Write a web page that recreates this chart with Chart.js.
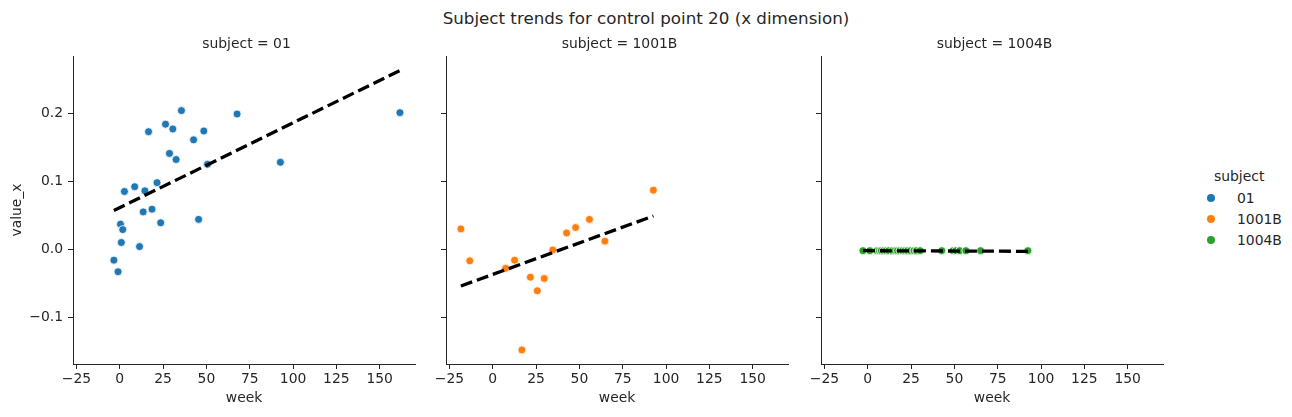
<!DOCTYPE html>
<html>
<head>
<meta charset="utf-8">
<script src="https://cdn.jsdelivr.net/npm/chart.js@4.4.1/dist/chart.umd.min.js"></script>
<style>
  body { margin: 0; background: #fff; }
  #wrap { position: relative; width: 1292px; height: 417px; font-family: "DejaVu Sans", sans-serif; color: #262626; }
  #wrap canvas { position: absolute; top: 30px; }
  .suptitle { position: absolute; left: 0; top: 8px; width: 1292px; text-align: center; font-size: 16.7px; line-height: 20px; }
  .ptitle { position: absolute; top: 34px; width: 347px; text-align: center; font-size: 13.9px; line-height: 18px; white-space: nowrap; }
  .legend { position: absolute; left: 1200px; top: 165px; font-size: 13.9px; }
  .legend .ttl { position: absolute; left: 14px; top: 0; line-height: 22px; white-space: nowrap; }
  .legend .item { position: absolute; left: 0; height: 20px; line-height: 20px; white-space: nowrap; }
  .legend .dot { position: absolute; left: 7px; top: 6px; width: 8px; height: 8px; border-radius: 50%; }
  .legend .lbl { position: absolute; left: 37px; top: 0; }
</style>
</head>
<body>
<div id="wrap">
  <div class="suptitle">Subject trends for control point 20 (x dimension)</div>
  <canvas id="p1" width="420" height="377" style="left:0px"></canvas>
  <canvas id="p2" width="420" height="377" style="left:373px"></canvas>
  <canvas id="p3" width="420" height="377" style="left:748px"></canvas>
  <div class="legend" id="legend"></div>
</div>
<script>
// tick labels
const xTicks = [-25, 0, 25, 50, 75, 100, 125, 150];
const yTicks = [-0.1, 0.0, 0.1, 0.2];

// subject 01
const weeks01 = [-3.4, -1.0, 0.4, 0.9, 1.7, 2.7, 8.6, 11.4, 13.5, 14.5, 16.6, 18.6, 21.5, 23.6, 26.4, 28.7, 30.6, 32.5, 35.6, 42.6, 45.5, 48.5, 50.6, 67.7, 92.7, 161.7];
const values01 = [-0.016, -0.033, 0.037, 0.010, 0.029, 0.085, 0.092, 0.004, 0.055, 0.086, 0.173, 0.059, 0.098, 0.039, 0.184, 0.141, 0.177, 0.132, 0.204, 0.161, 0.044, 0.174, 0.125, 0.199, 0.128, 0.201];
const fitWeeks01 = [-3.4, 161.7];
const fitValues01 = [0.057, 0.263];

// subject 1001B
const weeks1001B = [-18.4, -13.3, 7.4, 12.6, 16.8, 21.7, 25.7, 29.7, 34.6, 42.6, 47.8, 55.8, 64.7, 92.7];
const values1001B = [0.030, -0.017, -0.028, -0.016, -0.148, -0.041, -0.061, -0.043, -0.001, 0.024, 0.032, 0.044, 0.012, 0.087];
const fitWeeks1001B = [-18.4, 92.7];
const fitValues1001B = [-0.054, 0.049];

// subject 1004B
const weeks1004B = [-2.8, 1.2, 5.3, 6.7, 7.8, 9.1, 10.6, 12.2, 14.2, 15.8, 17.1, 18.6, 20.1, 21.6, 23.0, 24.7, 26.6, 28.1, 30.2, 42.7, 49.3, 50.9, 53.1, 56.6, 65.1, 92.4];
const values1004B = [-0.002, -0.002, -0.002, -0.002, -0.002, -0.002, -0.002, -0.002, -0.002, -0.002, -0.002, -0.002, -0.002, -0.002, -0.002, -0.002, -0.002, -0.002, -0.002, -0.002, -0.002, -0.002, -0.002, -0.002, -0.002, -0.002];
const fitWeeks1004B = [-2.8, 92.4];
const fitValues1004B = [-0.002, -0.003];

const subjects = ['01', '1001B', '1004B'];
const colors = ['#1f77b4', '#ff7f0e', '#2ca02c'];
const plotLefts = [73, 446, 821];

const ink = '#262626';
const font = { family: 'DejaVu Sans', size: 13.9 };
Chart.defaults.font.family = 'DejaVu Sans';
Chart.defaults.color = ink;

const minus = s => String(s).replace('-', '\u2212');
const pts = (xs, ys) => xs.map((x, i) => ({ x: x, y: ys[i] }));

function makePanel(id, subject, color, weeks, values, fitWeeks, fitValues, first) {
  const ctx = document.getElementById(id).getContext('2d');
  return new Chart(ctx, {
    type: 'scatter',
    data: {
      datasets: [
        {
          label: 'fit',
          data: pts(fitWeeks, fitValues),
          showLine: true,
          borderColor: '#000',
          borderWidth: 3.3,
          borderDash: [12, 5],
          pointRadius: 0,
          order: 0
        },
        {
          label: subject,
          data: pts(weeks, values),
          pointRadius: 4,
          pointBackgroundColor: color,
          pointBorderColor: '#fff',
          pointBorderWidth: 0.8,
          order: 1
        }
      ]
    },
    options: {
      responsive: false,
      animation: false,
      events: [],
      layout: { padding: { top: 26, left: 0, right: 0, bottom: 0 } },
      plugins: {
        legend: { display: false },
        tooltip: { enabled: false },
        title: { display: false }
      },
      scales: {
        x: {
          type: 'linear',
          min: -27,
          max: 170.5,
          afterBuildTicks: s => { s.ticks = xTicks.map(v => ({ value: v })); },
          afterFit: s => { s.height = 43; },
          ticks: { font: font, color: ink, padding: 2, maxRotation: 0, callback: v => minus(v) },
          grid: { drawOnChartArea: false, drawTicks: true, tickLength: 5, color: ink, lineWidth: 1 },
          border: { color: ink, width: 1 },
          title: { display: true, text: 'week', font: font, color: ink, padding: { top: 0, bottom: 0 } }
        },
        y: {
          type: 'linear',
          min: -0.1687,
          max: 0.2843,
          afterBuildTicks: s => { s.ticks = yTicks.map(v => ({ value: v })); },
          afterFit: s => { s.width = 73; },
          ticks: { display: first, font: font, color: ink, padding: 5, callback: v => minus(v.toFixed(1)) },
          grid: { drawOnChartArea: false, drawTicks: true, tickLength: 5, color: ink, lineWidth: 1 },
          border: { color: ink, width: 1 },
          title: { display: first, text: 'value_x', font: font, color: ink, padding: { top: 8.7, bottom: 0 } }
        }
      }
    }
  });
}

makePanel('p1', subjects[0], colors[0], weeks01, values01, fitWeeks01, fitValues01, true);
makePanel('p2', subjects[1], colors[1], weeks1001B, values1001B, fitWeeks1001B, fitValues1001B, false);
makePanel('p3', subjects[2], colors[2], weeks1004B, values1004B, fitWeeks1004B, fitValues1004B, false);

// facet titles, centred over each plot area
const wrap = document.getElementById('wrap');
subjects.forEach((s, i) => {
  const d = document.createElement('div');
  d.className = 'ptitle';
  d.style.left = plotLefts[i] + 'px';
  d.textContent = 'subject = ' + s;
  wrap.appendChild(d);
});

// legend
const legend = document.getElementById('legend');
legend.innerHTML = '<div class="ttl">subject</div>' + subjects.map((s, i) =>
  '<div class="item" style="top:' + (23 + i * 20.8) + 'px"><span class="dot" style="background:' + colors[i] + '"></span><span class="lbl">' + s + '</span></div>'
).join('');
</script>
</body>
</html>
